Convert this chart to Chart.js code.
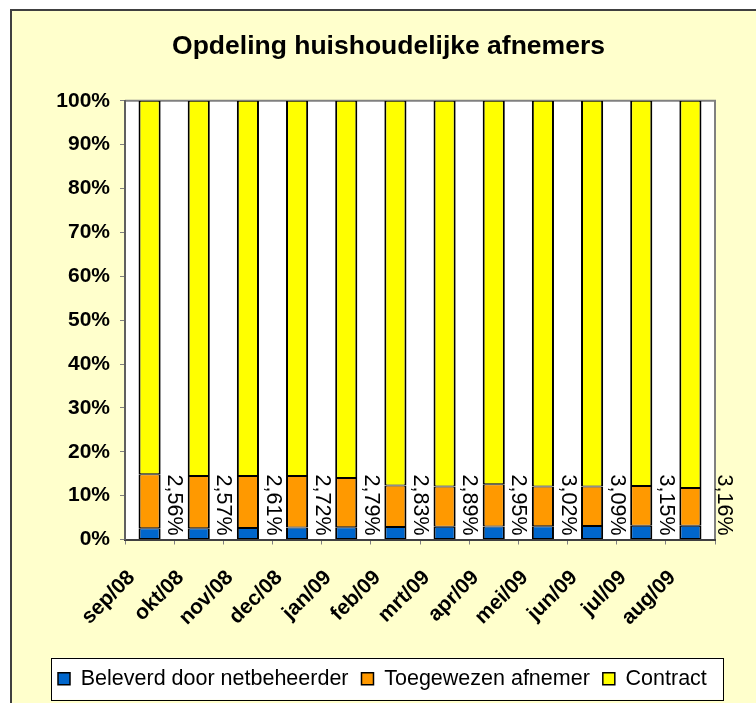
<!DOCTYPE html>
<html>
<head>
<meta charset="utf-8">
<script src="https://cdn.jsdelivr.net/npm/chart.js@4.4.0/dist/chart.umd.min.js"></script>
<style>
  html, body { margin: 0; padding: 0; background: #fff; }
  #frame {
    position: absolute; left: 10px; top: 9px; width: 746px; height: 694px;
    box-sizing: border-box; border-left: 2px solid #404040; border-top: 2px solid #404040;
    background: #FFFFCC;
  }
  canvas { display: block; }
</style>
</head>
<body>
<div id="frame"><canvas id="chart" width="744" height="692"></canvas></div>
<script>
// Maanden
const months = ['sep/08', 'okt/08', 'nov/08', 'dec/08', 'jan/09', 'feb/09',
                'mrt/09', 'apr/09', 'mei/09', 'jun/09', 'jul/09', 'aug/09'];

// Aandelen in %
const netbeheerder = [2.56, 2.57, 2.61, 2.72, 2.79, 2.83, 2.89, 2.95, 3.02, 3.09, 3.15, 3.16];
const toegewezen = [12.34, 11.93, 11.89, 11.78, 11.21, 9.47, 9.21, 9.65, 9.08, 9.01, 9.05, 8.59];
const contract = [85.10, 85.50, 85.50, 85.50, 86.00, 87.70, 87.90, 87.40, 87.90, 87.90, 87.80, 88.25];

const seriesNames = ['Beleverd door netbeheerder', 'Toegewezen afnemer', 'Contract'];
const yTicks = [0, 10, 20, 30, 40, 50, 60, 70, 80, 90, 100];

const FONT = 'Arial, "Liberation Sans", sans-serif';
const barBorder = {left: 2, right: 2, top: 1, bottom: 1};

// white plot area with grey frame, white legend box
const backdrop = {
    id: 'backdrop',
    afterLayout(chart) {
        chart.legend.left += 24;
    },
    beforeDraw(chart) {
        const ctx = chart.ctx;
        const a = chart.chartArea;
        ctx.save();
        ctx.fillStyle = '#fff';
        ctx.fillRect(a.left, a.top, a.right - a.left, a.bottom - a.top);
        ctx.strokeStyle = '#808080';
        ctx.lineWidth = 2;
        ctx.beginPath();
        ctx.moveTo(a.left, a.top);
        ctx.lineTo(a.right, a.top);
        ctx.lineTo(a.right, a.bottom);
        ctx.stroke();

        // legend frame
        const lg = chart.legend;
        const pad = lg.options.labels.padding;
        const boxX = lg.left + pad;
        const textEnd = boxX + lg.lineWidths[0] - pad;
        const cy = lg.top + pad + 21.5 / 2;
        ctx.fillStyle = '#fff';
        ctx.fillRect(boxX - 7, cy - 21, textEnd - boxX + 23, 42);
        ctx.strokeStyle = '#000';
        ctx.lineWidth = 1;
        ctx.strokeRect(Math.round(boxX - 7) + 0.5, Math.round(cy - 21) + 0.5,
                       Math.round(textEnd - boxX + 23), 42);
        ctx.restore();
    }
};

// rotated value labels of the bottom series, between the bars
const valueLabels = {
    id: 'valueLabels',
    afterDatasetsDraw(chart) {
        const ctx = chart.ctx;
        const xs = chart.scales.x;
        const ys = chart.scales.y;
        const half = (xs.getPixelForValue(1) - xs.getPixelForValue(0)) / 2;
        ctx.save();
        ctx.font = '21.5px ' + FONT;
        ctx.fillStyle = '#000';
        ctx.textAlign = 'right';
        ctx.textBaseline = 'middle';
        netbeheerder.forEach((v, i) => {
            let x = xs.getPixelForValue(i) + half;
            if (x + 8 > chart.chartArea.right) x = chart.chartArea.right + 9;
            const y = ys.getPixelForValue(0) - 4;
            ctx.save();
            ctx.translate(x, y);
            ctx.rotate(Math.PI / 2);
            ctx.fillText(v.toFixed(2).replace('.', ',') + '%', 0, 0);
            ctx.restore();
        });
        ctx.restore();
    }
};

const ctx = document.getElementById('chart').getContext('2d');
new Chart(ctx, {
    type: 'bar',
    data: {
        labels: months,
        datasets: [{
            label: seriesNames[0],
            data: netbeheerder,
            backgroundColor: '#0066CC',
            borderColor: '#000',
            borderWidth: barBorder,
            borderSkipped: false
        }, {
            label: seriesNames[1],
            data: toegewezen,
            backgroundColor: '#FF9900',
            borderColor: '#000',
            borderWidth: barBorder,
            borderSkipped: false
        }, {
            label: seriesNames[2],
            data: contract,
            backgroundColor: '#FFFF00',
            borderColor: '#000',
            borderWidth: barBorder,
            borderSkipped: false
        }]
    },
    options: {
        responsive: false,
        animation: false,
        categoryPercentage: 1,
        barPercentage: 0.45,
        layout: {
            padding: {left: 9, right: 0, top: 1, bottom: 3.5}
        },
        plugins: {
            title: {
                display: true,
                text: 'Opdeling huishoudelijke afnemers',
                color: '#000',
                font: {family: FONT, size: 26.5, weight: 'bold'},
                padding: {top: 19, bottom: 38}
            },
            legend: {
                position: 'bottom',
                align: 'start',
                labels: {
                    color: '#000',
                    font: {family: FONT, size: 21.5},
                    boxWidth: 12,
                    boxHeight: 12,
                    padding: 13
                }
            },
            tooltip: {enabled: false}
        },
        scales: {
            x: {
                stacked: true,
                grid: {
                    drawOnChartArea: false,
                    tickLength: 5,
                    color: '#808080'
                },
                border: {color: '#404040', width: 2},
                ticks: {
                    color: '#000',
                    font: {family: FONT, size: 21, weight: 'bold'},
                    minRotation: 45,
                    maxRotation: 45,
                    autoSkip: false,
                    padding: 21,
                    labelOffset: -18
                },
                afterFit(scale) {
                    scale.height = 115.5;
                }
            },
            y: {
                stacked: true,
                min: 0,
                max: 100,
                afterBuildTicks(scale) {
                    scale.ticks = yTicks.map(v => ({value: v}));
                },
                grid: {
                    drawOnChartArea: false,
                    tickLength: 5,
                    color: '#808080'
                },
                border: {color: '#606060', width: 2},
                ticks: {
                    color: '#000',
                    font: {family: FONT, size: 21, weight: 'bold'},
                    padding: 10,
                    callback: v => v + '%'
                },
                afterFit(scale) {
                    scale.width = 104;
                }
            },
            // empty right axis, only keeps the margin right of the plot
            yRight: {
                position: 'right',
                grid: {display: false},
                border: {display: false},
                ticks: {display: false},
                afterFit(scale) {
                    scale.width = 41;
                }
            }
        }
    },
    plugins: [backdrop, valueLabels]
});
</script>
</body>
</html>
